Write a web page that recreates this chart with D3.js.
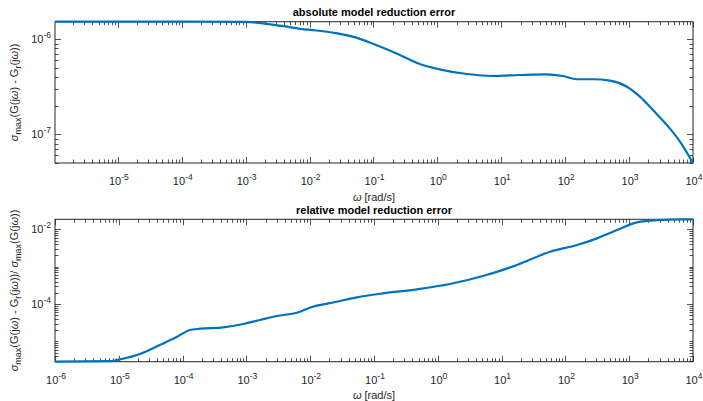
<!DOCTYPE html>
<html>
<head>
<meta charset="utf-8">
<script src="https://cdn.jsdelivr.net/npm/d3@7"></script>
<style>
  body { margin: 0; background: #fff; }
  svg { display: block; font-family: "Liberation Sans", Arial, sans-serif; }
</style>
</head>
<body>
<svg id="chart" width="703" height="401"></svg>
<script>
// absolute error sigma_max(G - Gr)
const omegaAbs = [1.04e-6, 1e-5, 1e-4, 1e-3, 3.7e-3, 7.7e-3, 1.1e-2, 2.6e-2, 5.4e-2, 0.11, 0.23, 0.53,
  1.08, 2.9, 7.3, 19.4, 51.5, 91.6, 152, 271, 500, 925, 1480, 2360, 3920, 6250, 1e4];
const errAbs = [1.53e-6, 1.53e-6, 1.53e-6, 1.52e-6, 1.38e-6, 1.28e-6, 1.25e-6, 1.16e-6, 1.04e-6, 8.7e-7,
  7.1e-7, 5.5e-7, 4.83e-7, 4.31e-7, 4.11e-7, 4.21e-7, 4.28e-7, 4.11e-7, 3.8e-7, 3.8e-7, 3.67e-7,
  3.17e-7, 2.49e-7, 1.8e-7, 1.25e-7, 8.4e-8, 5.0e-8];

// relative error
const omegaRel = [1e-6, 7.3e-6, 1.04e-5, 2.15e-5, 4.4e-5, 8.2e-5, 1.3e-4, 1.9e-4, 4.3e-4, 8.9e-4, 1.63e-3,
  3.0e-3, 6.2e-3, 1.1e-2, 2.6e-2, 5.4e-2, 0.138, 0.472, 1.55, 5.1, 17.4, 57.4, 152, 313, 644, 1320,
  2730, 6970, 1e4];
const errRel = [2.88e-6, 2.95e-6, 3.3e-6, 4.58e-6, 7.97e-6, 1.33e-5, 2.01e-5, 2.18e-5, 2.38e-5, 2.92e-5,
  3.73e-5, 4.77e-5, 5.85e-5, 8.47e-5, 1.15e-4, 1.51e-4, 1.93e-4, 2.48e-4, 3.43e-4, 5.62e-4, 1.11e-3,
  2.51e-3, 3.8e-3, 5.74e-3, 9.58e-3, 1.54e-2, 1.77e-2, 1.85e-2, 1.85e-2];

// labelled decades
const xExpAbs = [-5, -4, -3, -2, -1, 0, 1, 2, 3, 4];
const xExpRel = [-6, -5, -4, -3, -2, -1, 0, 1, 2, 3, 4];
const yExpAbs = [-7, -6];
const yExpRel = [-4, -2];

const svg = d3.select("#chart");
const axisColor = "#262626";
const left = 55, right = 693;

function minorTicks(domain) {
  const out = [];
  const lo = Math.floor(Math.log10(domain[0])), hi = Math.ceil(Math.log10(domain[1]));
  for (let e = lo; e <= hi; e++) {
    for (let k = 1; k <= 9; k++) {
      const v = k * Math.pow(10, e);
      if (v >= domain[0] * 0.9999 && v <= domain[1] * 1.0001) out.push(v);
    }
  }
  return out;
}

function powText(sel, e) {
  sel.append("tspan").text("10");
  sel.append("tspan").attr("dy", -5).attr("font-size", 8.5).text(e);
}

function panel(opts) {
  const { top, bottom, omega, err, xDomain, yDomain, xExp, yExp, title, ylabel } = opts;
  const x = d3.scaleLog().domain(xDomain).range([left, right]);
  const y = d3.scaleLog().domain(yDomain).range([bottom, top]);
  const g = svg.append("g");

  // frame
  g.append("rect").attr("x", left).attr("y", top).attr("width", right - left).attr("height", bottom - top)
    .attr("fill", "none").attr("stroke", axisColor).attr("stroke-width", 1);

  const majX = xExp.map(e => Math.pow(10, e));
  const majY = yExp.map(e => Math.pow(10, e));
  const tk = g.append("g").attr("stroke", axisColor).attr("stroke-width", 0.8);

  minorTicks(xDomain).forEach(v => {
    const len = majX.includes(v) ? 6 : 3.5;
    const px = Math.round(x(v)) + 0.5;
    tk.append("line").attr("x1", px).attr("x2", px).attr("y1", bottom).attr("y2", bottom - len);
    tk.append("line").attr("x1", px).attr("x2", px).attr("y1", top).attr("y2", top + len);
  });
  minorTicks(yDomain).forEach(v => {
    const len = majY.some(m => Math.abs(m - v) / m < 1e-9) ? 6 : 3.5;
    const py = Math.round(y(v)) + 0.5;
    tk.append("line").attr("y1", py).attr("y2", py).attr("x1", left).attr("x2", left + len);
    tk.append("line").attr("y1", py).attr("y2", py).attr("x1", right).attr("x2", right - len);
  });

  // tick labels
  xExp.forEach(e => {
    g.append("text").attr("x", x(Math.pow(10, e)) + 1).attr("y", bottom + 22)
      .attr("text-anchor", "middle").attr("font-size", 11).attr("fill", axisColor)
      .call(powText, String(e));
  });
  yExp.forEach(e => {
    g.append("text").attr("x", left - 4).attr("y", y(Math.pow(10, e)) + 4)
      .attr("text-anchor", "end").attr("font-size", 11).attr("fill", axisColor)
      .call(powText, String(e));
  });

  // curve
  const line = d3.line().x((d, i) => x(omega[i])).y(d => y(d)).curve(d3.curveMonotoneX);
  g.append("path").datum(err).attr("d", line)
    .attr("fill", "none").attr("stroke", "#0072BD").attr("stroke-width", 2.2)
    .attr("stroke-linejoin", "round");

  // title
  g.append("text").attr("x", (left + right) / 2).attr("y", top - 5.5)
    .attr("text-anchor", "middle").attr("font-size", 11).attr("font-weight", "bold").attr("fill", "#000")
    .text(title);

  // x label
  const xl = g.append("text").attr("x", (left + right) / 2).attr("y", bottom + 37.5)
    .attr("text-anchor", "middle").attr("font-size", 11).attr("fill", axisColor);
  xl.append("tspan").attr("font-style", "italic").text("ω");
  xl.append("tspan").text(" [rad/s]");

  // y label
  const yl = g.append("text")
    .attr("transform", `translate(18,${(top + bottom) / 2}) rotate(-90)`)
    .attr("text-anchor", "middle").attr("font-size", 11).attr("fill", axisColor);
  ylabel(yl);
}

function sigmaMax(t) {
  t.append("tspan").attr("font-style", "italic").text("σ");
  t.append("tspan").attr("dy", 3).attr("font-size", 9).text("max");
  t.append("tspan").attr("dy", -3).text("(G(j");
}
function errNum(t) {
  sigmaMax(t);
  t.append("tspan").attr("font-style", "italic").text("ω");
  t.append("tspan").text(") - G");
  t.append("tspan").attr("dy", 3).attr("font-size", 9).text("r");
  t.append("tspan").attr("dy", -3).text("(j");
  t.append("tspan").attr("font-style", "italic").text("ω");
  t.append("tspan").text("))");
}

panel({
  top: 21.7, bottom: 163, omega: omegaAbs, err: errAbs,
  xDomain: [1.04e-6, 1e4], yDomain: [5e-8, 1.53e-6],
  xExp: xExpAbs, yExp: yExpAbs,
  title: "absolute model reduction error",
  ylabel: t => errNum(t)
});

panel({
  top: 219.3, bottom: 361.7, omega: omegaRel, err: errRel,
  xDomain: [1e-6, 1e4], yDomain: [2.85e-6, 1.86e-2],
  xExp: xExpRel, yExp: yExpRel,
  title: "relative model reduction error",
  ylabel: t => {
    errNum(t);
    t.append("tspan").text("/ ");
    sigmaMax(t);
    t.append("tspan").attr("font-style", "italic").text("ω");
    t.append("tspan").text("))");
  }
});
</script>
</body>
</html>
